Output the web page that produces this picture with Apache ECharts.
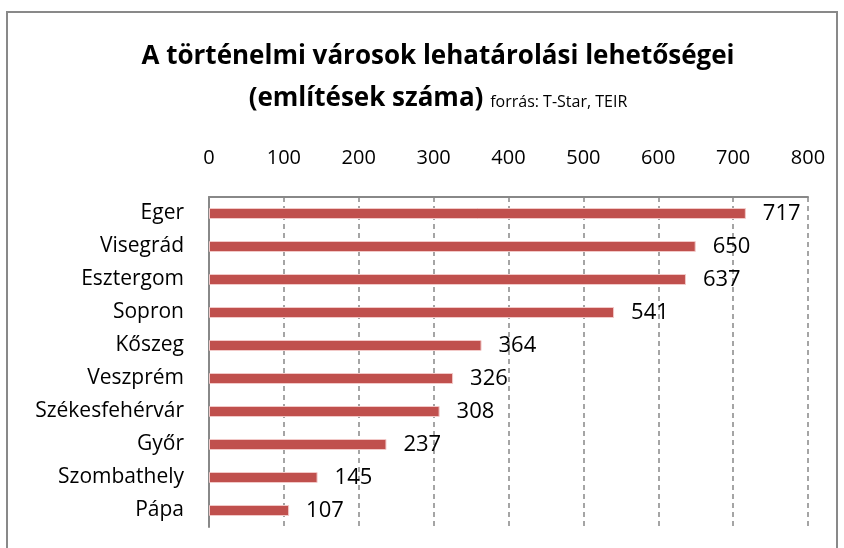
<!DOCTYPE html>
<html>
<head>
<meta charset="utf-8">
<script src="https://cdn.jsdelivr.net/npm/echarts@6/dist/echarts.min.js"></script>
<style>
  html, body { margin: 0; padding: 0; background: #fff; }
  #chart { width: 844px; height: 548px; }
</style>
</head>
<body>
<div id="chart"></div>
<script>
// városok és említések száma
var cities = ["Eger", "Visegrád", "Esztergom", "Sopron", "Kőszeg", "Veszprém", "Székesfehérvár", "Győr", "Szombathely", "Pápa"];
var mentions = [717, 650, 637, 541, 364, 326, 308, 237, 145, 107];
var axisTicks = [0, 100, 200, 300, 400, 500, 600, 700, 800];

var font = "'Open Sans', sans-serif";

var chart = echarts.init(document.getElementById("chart"));
var option = {
  animation: false,
  textStyle: { fontFamily: font },
  title: {
    text: "A történelmi városok lehatárolási lehetőségei\n{b|(említések száma)} {s|forrás: T-Star, TEIR}",
    left: 433,
    top: 31,
    textAlign: "center",
    textStyle: {
      fontFamily: font,
      fontSize: 26,
      fontWeight: "bold",
      color: "#000",
      lineHeight: 42,
      rich: {
        b: { fontFamily: font, fontSize: 26, fontWeight: "bold", color: "#000" },
        s: { fontFamily: font, fontSize: 16, fontWeight: "normal", color: "#000", padding: [6, 0, 0, 0] }
      }
    }
  },
  graphic: [
    {
      type: "rect",
      shape: { x: 7, y: 12, width: 830, height: 560 },
      style: { fill: "none", stroke: "#898989", lineWidth: 2 }
    }
  ],
  grid: { left: 209, top: 197, right: 36, bottom: 21 },
  xAxis: {
    type: "value",
    position: "top",
    min: axisTicks[0],
    max: axisTicks[axisTicks.length - 1],
    interval: 100,
    axisLine: { show: true, lineStyle: { color: "#888", width: 2 } },
    axisTick: { show: false },
    axisLabel: { fontSize: 20, color: "#000", margin: 29, fontFamily: font },
    splitLine: { show: true, lineStyle: { color: "#888", type: [5, 4], width: 1.5 } }
  },
  yAxis: {
    type: "category",
    inverse: true,
    data: cities,
    axisLine: { show: true, lineStyle: { color: "#888", width: 2 } },
    axisTick: { show: false },
    axisLabel: { fontSize: 21, color: "#000", margin: 25, fontFamily: font }
  },
  series: [
    {
      type: "bar",
      data: mentions,
      barWidth: 11,
      itemStyle: { color: "#C0504D", borderColor: "#F2C9C8", borderWidth: 1 },
      label: {
        show: true,
        position: "right",
        distance: 17,
        fontSize: 22,
        color: "#000",
        fontFamily: font
      }
    }
  ]
};
chart.setOption(option);
</script>
</body>
</html>
